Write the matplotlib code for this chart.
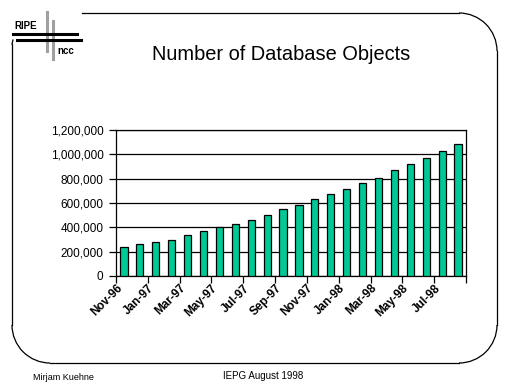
import matplotlib
matplotlib.use("Agg")
import matplotlib.pyplot as plt
from matplotlib.patches import Arc
from matplotlib.ticker import FuncFormatter

plt.rcParams['font.family'] = ['Liberation Sans', 'DejaVu Sans']

# Monthly counts, Nov-96 .. Aug-98
months = ["Nov-96", "Dec-96", "Jan-97", "Feb-97", "Mar-97", "Apr-97", "May-97",
          "Jun-97", "Jul-97", "Aug-97", "Sep-97", "Oct-97", "Nov-97", "Dec-97",
          "Jan-98", "Feb-98", "Mar-98", "Apr-98", "May-98", "Jun-98", "Jul-98",
          "Aug-98"]
objects = [238000, 263000, 279000, 296000, 337000, 370000, 403000, 427000,
           460000, 501000, 551000, 586000, 633000, 674000, 715000, 764000,
           805000, 871000, 921000, 970000, 1027000, 1085000]
y_ticks = [0, 200000, 400000, 600000, 800000, 1000000, 1200000]

W, H = 512, 384
fig = plt.figure(figsize=(W / 100, H / 100), dpi=100)

# overlay in pixel coordinates for the slide decorations
deco = fig.add_axes([0, 0, 1, 1])
deco.set_xlim(0, W)
deco.set_ylim(H, 0)
deco.axis('off')

# rounded frame (y axis is flipped, so arc angles go clockwise on screen)
r = 38
kw = dict(color='black', lw=0.9)
deco.plot([82, 497 - r], [13, 13], **kw)
deco.plot([497, 497], [13 + r, 363 - r], **kw)
deco.plot([12 + r, 497 - r], [363, 363], **kw)
deco.plot([12, 12], [44, 363 - r], **kw)
deco.add_patch(Arc((497 - r, 13 + r), 2 * r, 2 * r, theta1=270, theta2=360, **kw))
deco.add_patch(Arc((497 - r, 363 - r), 2 * r, 2 * r, theta1=0, theta2=90, **kw))
deco.add_patch(Arc((12 + r, 363 - r), 2 * r, 2 * r, theta1=90, theta2=180, **kw))
deco.plot([12, 13], [44, 40], **kw)

# RIPE ncc logo
deco.plot([46.5, 46.5], [12, 51], color='#a0a0a0', lw=2.2)
deco.plot([52.5, 52.5], [21, 59], color='#a0a0a0', lw=2.2)
deco.plot([13, 77], [34, 34], color='black', lw=2.2)
deco.plot([17, 81], [39.5, 39.5], color='black', lw=2.2)
deco.text(14, 29, "RIPE", fontsize=7, fontweight='bold', ha='left', va='baseline')
deco.text(57, 54.5, "ncc", fontsize=7, fontweight='bold', ha='left', va='baseline')

deco.text(281, 55, "Number of Database Objects", fontsize=14.4, ha='center', va='center')
deco.text(33, 377, "Mirjam Kuehne", fontsize=6.5, ha='left', va='center')
deco.text(263, 376, "IEPG August 1998", fontsize=7, ha='center', va='center')

# chart
ax = fig.add_axes([116 / W, 1 - 276 / H, (466 - 116) / W, (276 - 130) / H])
x = list(range(len(months)))
ax.bar(x, objects, width=0.45, color='#00c896', edgecolor='black', linewidth=0.9, zorder=3)
ax.set_xlim(-0.5, len(months) - 0.5)
ax.set_ylim(0, 1200000)
ax.set_yticks(y_ticks)
ax.yaxis.set_major_formatter(FuncFormatter(lambda v, p: f"{int(v):,}"))
ax.grid(axis='y', color='black', lw=0.9, zorder=1)
ax.tick_params(axis='y', length=5, width=0.9, labelsize=8.5, pad=4)

# ticks every second category boundary, labels every second month
ax.set_xticks([i - 0.5 for i in range(0, len(months) + 1, 2)])
ax.set_xticklabels([])
ax.tick_params(axis='x', length=5, width=0.9)
for i in range(0, len(months), 2):
    ax.text(i - 0.5, -50000, months[i], rotation=45, rotation_mode='anchor',
            ha='right', va='top', fontsize=8.5, fontweight='bold')

for s in ax.spines.values():
    s.set_linewidth(0.9)

fig.savefig("out.png", dpi=100)
